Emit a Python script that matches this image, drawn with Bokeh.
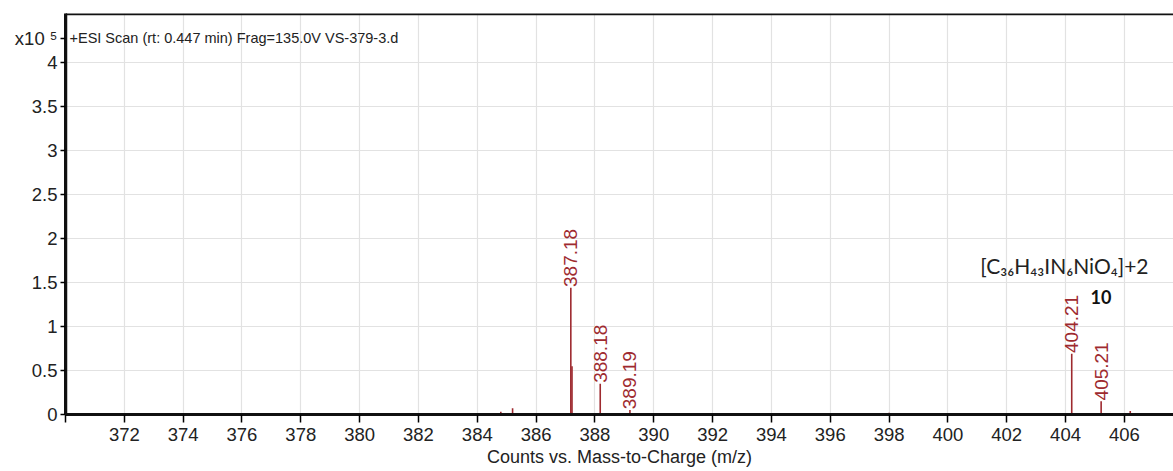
import math
from bokeh.plotting import figure
from bokeh.models import Range1d, FixedTicker, Label, Span, ColumnDataSource
from bokeh.embed import file_html
from bokeh.resources import INLINE
from bokeh.core.properties import value

# m/z peaks (x) and intensities (x10^5 counts)
peak_mz = [384.80, 385.20, 387.18, 387.22, 388.18, 389.19, 393.50, 398.00, 401.00, 404.21, 405.21, 406.20, 407.00]
peak_int = [0.03, 0.07, 1.44, 0.55, 0.35, 0.05, 0.01, 0.02, 0.01, 0.69, 0.15, 0.04, 0.01]

label_mz = [387.18, 388.18, 389.19, 404.21, 405.21]
label_int = [1.44, 0.35, 0.05, 0.69, 0.15]
label_txt = ["387.18", "388.18", "389.19", "404.21", "405.21"]

x_ticks = list(range(370, 408, 2))
y_ticks = [0, 0.5, 1, 1.5, 2, 2.5, 3, 3.5, 4]
y_tick_labels = ["0", "0.5", "1", "1.5", "2", "2.5", "3", "3.5", "4"]
scale_pos = 4.28
scale_text = "x10 ⁵"

RED = "#9e2a2f"
FONT = "Liberation Sans"
X0, X1, Y0, Y1 = 370, 407.67, 0, 4.56

p = figure(width=1173, height=471, output_backend="svg", toolbar_location=None,
           x_range=Range1d(X0, X1), y_range=Range1d(Y0, Y1),
           min_border_left=65, min_border_right=0, min_border_top=13, min_border_bottom=57)
p.outline_line_color = None
p.background_fill_color = "white"

# grid
p.xgrid.ticker = FixedTicker(ticks=x_ticks)
p.ygrid.ticker = FixedTicker(ticks=y_ticks)
p.grid.grid_line_color = "#e2e2e2"
p.grid.grid_line_width = 1.2

# axes
for ax in list(p.xaxis) + list(p.yaxis):
    ax.axis_line_width = 3
    ax.axis_line_color = "#111111"
    ax.major_tick_line_width = 1.5
    ax.major_tick_in = 0
    ax.minor_tick_line_color = None
    ax.major_label_text_font = FONT
    ax.major_label_text_font_size = "18.5px"
    ax.major_label_text_color = "#222222"

p.xaxis.major_tick_out = 8
p.xaxis.ticker = FixedTicker(ticks=x_ticks)
p.xaxis.major_label_overrides = {370: ""}
p.xaxis.major_label_standoff = 5
p.xaxis.axis_label = "Counts vs. Mass-to-Charge (m/z)"
p.xaxis.axis_label_text_font = FONT
p.xaxis.axis_label_text_font_size = "18px"
p.xaxis.axis_label_text_font_style = "normal"
p.xaxis.axis_label_text_color = "#222222"
p.xaxis.axis_label_standoff = 3

p.yaxis.major_tick_out = 5
p.yaxis.ticker = FixedTicker(ticks=y_ticks + [scale_pos])
ov = {t: s for t, s in zip(y_ticks, y_tick_labels)}
ov[scale_pos] = scale_text
p.yaxis.major_label_overrides = ov
p.yaxis.major_label_standoff = 3

# frame lines (top, left, bottom)
p.add_layout(Span(location=Y1, dimension="width", line_color="#111111", line_width=3.5))
p.add_layout(Span(location=X0, dimension="height", line_color="#111111", line_width=3.5))

# baseline
p.line(x=[X0, X1], y=[0.008, 0.008], line_color=RED, line_width=1.2)

# peaks
src = ColumnDataSource(dict(x=peak_mz, y0=[0] * len(peak_mz), y1=peak_int))
p.segment(x0="x", y0="y0", x1="x", y1="y1", source=src, line_color=RED, line_width=1.6)

p.add_layout(Span(location=Y0, dimension="width", line_color="#111111", line_width=3))

# peak labels
lsrc = ColumnDataSource(dict(x=label_mz, y=[v + 0.01 for v in label_int], t=label_txt))
p.text(x="x", y="y", text="t", source=lsrc, angle=math.pi / 2,
       text_align="left", text_baseline="middle", text_color=RED,
       text_font=value(FONT), text_font_size="19px")

# header text
p.add_layout(Label(x=4, y=377, x_units="screen", y_units="screen",
                   text="+ESI Scan (rt: 0.447 min) Frag=135.0V VS-379-3.d",
                   text_font=FONT, text_font_size="14.5px", text_color="#222222",
                   text_baseline="middle"))

# formula annotation
p.add_layout(Label(x=401.1, y=1.69, text="[C₃₆H₄₃IN₆NiO₄]+2",
                   text_font="Lato", text_font_size="21px", text_color="#222222",
                   text_baseline="middle"))
p.add_layout(Label(x=404.85, y=1.34, text="10",
                   text_font="Lato", text_font_size="18px", text_font_style="bold",
                   text_color="#111111", text_baseline="middle"))

open("out.html", "w").write(file_html(p, INLINE))
